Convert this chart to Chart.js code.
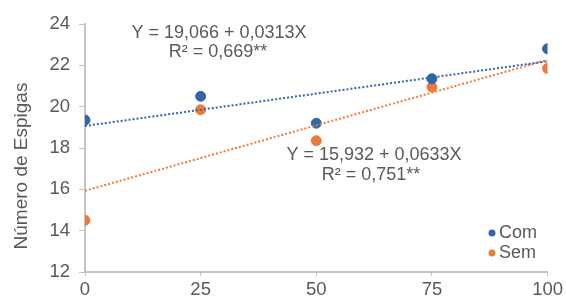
<!DOCTYPE html>
<html>
<head>
<meta charset="utf-8">
<script src="https://cdn.jsdelivr.net/npm/chart.js@4"></script>
<style>
  html, body { margin: 0; padding: 0; background: #fff; }
  #wrap { width: 566px; height: 304px; }
</style>
</head>
<body>
<div id="wrap"><canvas id="chart1"></canvas></div>
<script>
// doses (x) and number of ears per treatment
const doses = [0, 25, 50, 75, 100];
const com = [19.35, 20.5, 19.2, 21.35, 22.8];
const sem = [14.5, 19.85, 18.35, 20.95, 21.85];
// trendline endpoints (x = 0 and x = 100)
const trendX = [0, 100];
const comTrend = [19.066, 22.196];
const semTrend = [15.932, 22.262];
const yTicks = [12, 14, 16, 18, 20, 22, 24];
const xTicks = [0, 25, 50, 75, 100];

const blue = '#3166a9';
const orange = '#e97c3c';
const txt = '#595959';
const axisCol = '#c4c4c4';
const font = 'Liberation Sans, Arial, sans-serif';

function pts(xs, ys) {
  return xs.map((x, i) => ({ x: x, y: ys[i] }));
}

// equations, axis title and legend drawn on top
const extras = {
  id: 'extras',
  afterDraw(chart) {
    const c = chart.ctx;
    c.save();
    c.fillStyle = txt;
    c.font = '18px ' + font;
    c.textAlign = 'center';
    c.textBaseline = 'middle';
    c.fillText('Y = 19,066 + 0,0313X', 219, 33);
    c.fillText('R² = 0,669**', 218, 52);
    c.fillText('Y = 15,932 + 0,0633X', 374, 155);
    c.fillText('R² = 0,751**', 371, 175);

    // y axis title
    c.save();
    c.font = '19px ' + font;
    c.translate(22, 166);
    c.rotate(-Math.PI / 2);
    c.fillText('Número de Espigas', 0, 0);
    c.restore();

    // legend
    const items = [['Com', blue, 233], ['Sem', orange, 253]];
    c.textAlign = 'left';
    items.forEach(it => {
      c.fillStyle = it[1];
      c.beginPath();
      c.arc(492, it[2], 3.5, 0, Math.PI * 2);
      c.fill();
      c.fillStyle = txt;
      c.fillText(it[0], 499, it[2]);
    });
    c.restore();
  }
};

new Chart(document.getElementById('chart1'), {
  type: 'scatter',
  data: {
    datasets: [
      {
        label: 'Com trend',
        type: 'line',
        data: pts(trendX, comTrend),
        borderColor: blue,
        borderWidth: 2,
        borderDash: [2, 2],
        pointRadius: 0,
        fill: false
      },
      {
        label: 'Sem trend',
        type: 'line',
        data: pts(trendX, semTrend),
        borderColor: orange,
        borderWidth: 2,
        borderDash: [2, 2],
        pointRadius: 0,
        fill: false
      },
      {
        label: 'Com',
        data: pts(doses, com),
        backgroundColor: blue,
        borderColor: blue,
        pointRadius: 5
      },
      {
        label: 'Sem',
        data: pts(doses, sem),
        backgroundColor: orange,
        borderColor: orange,
        pointRadius: 5
      }
    ]
  },
  options: {
    responsive: true,
    maintainAspectRatio: false,
    animation: false,
    layout: { padding: { left: 0, right: 18, top: 24, bottom: 0 } },
    plugins: {
      legend: { display: false },
      tooltip: { enabled: false }
    },
    scales: {
      x: {
        type: 'linear',
        min: 0,
        max: 100,
        afterBuildTicks: s => { s.ticks = xTicks.map(v => ({ value: v })); },
        afterFit: s => { s.height = 32; },
        grid: { drawOnChartArea: false, color: axisCol, tickLength: 4 },
        border: { color: axisCol, width: 2 },
        ticks: { color: txt, font: { size: 18.5, family: font }, padding: 3 }
      },
      y: {
        min: 12,
        max: 24,
        afterBuildTicks: s => { s.ticks = yTicks.map(v => ({ value: v })); },
        afterFit: s => { s.width = 85; },
        grid: { drawOnChartArea: false, color: axisCol, tickLength: 6 },
        border: { color: axisCol, width: 2 },
        ticks: { color: txt, font: { size: 18.5, family: font }, padding: 9 }
      }
    }
  },
  plugins: [extras]
});
</script>
</body>
</html>
